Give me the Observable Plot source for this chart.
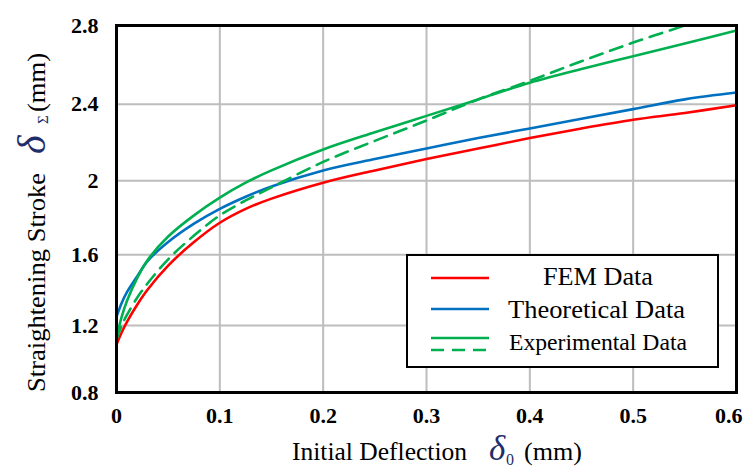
<!DOCTYPE html>
<html>
<head>
<meta charset="utf-8">
<script src="https://cdn.jsdelivr.net/npm/d3@7"></script>
<script src="https://cdn.jsdelivr.net/npm/@observablehq/plot@0.6"></script>
<style>
  html, body { margin: 0; padding: 0; background: #fff; }
</style>
</head>
<body>
<div id="chart"></div>
<script>
// Initial deflection δ0 (mm), shared sample positions for every series
const deflection = [0, 0.005, 0.01, 0.02, 0.03, 0.05, 0.075, 0.1, 0.125, 0.15, 0.2, 0.25, 0.3, 0.35, 0.4, 0.45, 0.5, 0.55, 0.6];

// Straightening stroke δΣ (mm) for each series
const femData = [1.09, 1.16, 1.22, 1.32, 1.405, 1.54, 1.67, 1.775, 1.85, 1.905, 1.99, 2.055, 2.115, 2.17, 2.225, 2.275, 2.32, 2.355, 2.395];
const theoreticalData = [1.25, 1.33, 1.39, 1.48, 1.565, 1.67, 1.77, 1.85, 1.915, 1.97, 2.055, 2.115, 2.17, 2.225, 2.275, 2.325, 2.375, 2.425, 2.46];
const experimentalSolid = [1.13, 1.25, 1.34, 1.47, 1.57, 1.70, 1.815, 1.91, 1.99, 2.055, 2.165, 2.255, 2.34, 2.425, 2.51, 2.58, 2.645, 2.71, 2.775];
const experimentalDashed = [1.12, 1.20, 1.26, 1.36, 1.44, 1.575, 1.705, 1.815, 1.895, 1.965, 2.10, 2.21, 2.316, 2.425, 2.52, 2.62, 2.714, 2.80, null];

// Axis ticks
const xTicks = [0, 0.1, 0.2, 0.3, 0.4, 0.5, 0.6];
const yTicks = [0.8, 1.2, 1.6, 2.0, 2.4, 2.8];

// Legend entries
const legendLabels = ["FEM Data", "Theoretical Data", "Experimental Data"];

// Layout and styling
const W = 745, H = 468;
const margin = {top: 25, right: 9, bottom: 76, left: 116};
const RED = "#ff0000", BLUE = "#0070c0", GREEN = "#00b050", NAVY = "#1f2d6b";
const GRID = "#bdbdbd";
const SERIF = "'Liberation Serif', 'Times New Roman', serif";
const DASH = "13,8";

const toRows = (ys) => deflection
  .map((x, i) => ({x, y: ys[i]}))
  .filter(d => d.y != null);

const lineOpts = {x: "x", y: "y", strokeWidth: 2.6, curve: "catmull-rom"};
const tickText = {tickSize: 0, fontSize: 22, fontWeight: "bold", tickFormat: d => String(d), label: null};

const svg = Plot.plot({
  width: W,
  height: H,
  marginTop: margin.top,
  marginRight: margin.right,
  marginBottom: margin.bottom,
  marginLeft: margin.left,
  style: {fontFamily: SERIF, background: "#fff", color: "#000", overflow: "visible"},
  x: {domain: [0, 0.6]},
  // slightly stretched toward the top, like the original axis spacing
  y: {type: "pow", exponent: 1.17, domain: [0.8, 2.8]},
  marks: [
    Plot.gridX(xTicks.slice(1, -1), {stroke: GRID, strokeOpacity: 1, strokeWidth: 2}),
    Plot.gridY(yTicks.slice(1, -1), {stroke: GRID, strokeOpacity: 1, strokeWidth: 2}),
    Plot.line(toRows(femData), {...lineOpts, stroke: RED}),
    Plot.line(toRows(theoreticalData), {...lineOpts, stroke: BLUE}),
    Plot.line(toRows(experimentalSolid), {...lineOpts, stroke: GREEN}),
    Plot.line(toRows(experimentalDashed), {...lineOpts, stroke: GREEN, strokeDasharray: DASH}),
    Plot.frame({stroke: "#000", strokeWidth: 3}),
    Plot.axisY(yTicks, {...tickText, tickPadding: 18}),
    Plot.axisX(xTicks.slice(0, -1), {...tickText, tickPadding: 15}),
    Plot.axisX(xTicks.slice(-1), {...tickText, tickPadding: 15, textAnchor: "end", dx: 6})
  ]
});

const root = d3.select(svg);
const g = root.append("g")
  .attr("font-family", SERIF)
  .attr("text-anchor", "start")
  .attr("fill", "#000");

// stretch a text run to a set width
const fit = (sel, len) => sel.attr("textLength", len).attr("lengthAdjust", "spacingAndGlyphs");

// x-axis title: Initial Deflection δ0 (mm)
const xl = g.append("text").attr("y", 460).attr("font-size", 25);
fit(xl.append("tspan").attr("x", 292), 175).text("Initial Deflection");
xl.append("tspan").attr("x", 489).attr("font-size", 35).attr("font-style", "italic").attr("fill", NAVY).text("δ");
xl.append("tspan").attr("x", 506).attr("dy", 5).attr("font-size", 16).attr("fill", NAVY).text("0");
fit(xl.append("tspan").attr("x", 524).attr("dy", -5), 58).text("(mm)");

// y-axis title: Straightening Stroke δΣ (mm)
const yl = g.append("text").attr("transform", "translate(45,392) rotate(-90)").attr("font-size", 26);
fit(yl.append("tspan").attr("x", 0), 219).text("Straightening Stroke");
yl.append("tspan").attr("x", 238).attr("font-size", 40).attr("font-style", "italic").attr("fill", NAVY).text("δ");
yl.append("tspan").attr("x", 268).attr("dy", 3).attr("font-size", 15).attr("fill", NAVY).text("Σ");
fit(yl.append("tspan").attr("x", 280).attr("dy", -3), 59).text("(mm)");

// Legend box inside the plot area
const lg = g.append("g");
lg.append("rect").attr("x", 407).attr("y", 255).attr("width", 311).attr("height", 112)
  .attr("fill", "#fff").attr("stroke", "#000").attr("stroke-width", 2);
const sample = (y, color, dash) => lg.append("line")
  .attr("x1", 431).attr("x2", 489).attr("y1", y).attr("y2", y)
  .attr("stroke", color).attr("stroke-width", 2.6).attr("stroke-dasharray", dash || null);
sample(278, RED);
sample(309, BLUE);
sample(338, GREEN);
sample(350, GREEN, DASH);
fit(lg.append("text").attr("x", 543).attr("y", 285).attr("font-size", 26), 110).text(legendLabels[0]);
fit(lg.append("text").attr("x", 508).attr("y", 318).attr("font-size", 26), 177).text(legendLabels[1]);
fit(lg.append("text").attr("x", 509).attr("y", 350).attr("font-size", 24), 178).text(legendLabels[2]);

document.getElementById("chart").appendChild(svg);
</script>
</body>
</html>
